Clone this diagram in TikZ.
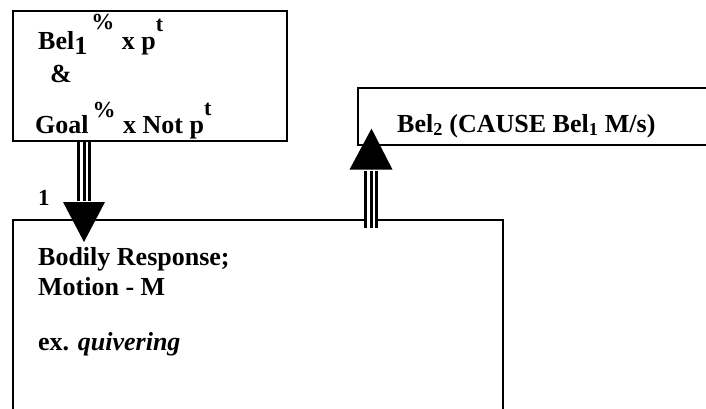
\documentclass[tikz,border=0pt]{standalone}
\usepackage{fontspec}
\setmainfont{Liberation Serif}
\usetikzlibrary{calc}
\begin{document}
\begin{tikzpicture}[x=1pt,y=-1pt,
  box/.style={draw, line width=1.6pt, rectangle, inner sep=0pt, anchor=north west},
  txt/.style={anchor=base west, inner sep=0pt, font=\fontsize{26}{30}\selectfont\bfseries},
  shaft/.style={line width=3pt, double=white, double distance=8pt},
  core/.style={line width=3pt},
  head/.style={fill=black, draw=none}]
\useasboundingbox (0,0) rectangle (706,409);
\begin{scope}
\clip (0,0) rectangle (706,409);
\node[box, minimum width=274pt, minimum height=130pt] (tl) at (12,10) {};
\node[box, minimum width=400pt, minimum height=57pt] (tr) at (357,87) {};
\node[box, minimum width=490pt, minimum height=250pt] (bt) at (12,219) {};
\end{scope}
% texts top-left
\node[txt] (t1) at (38,50) {Bel\raisebox{-5pt}{1}\hspace{4pt}\raisebox{20pt}{\fontsize{23}{23}\selectfont\%}\hspace{1pt} x p\raisebox{18pt}{\fontsize{22}{22}\selectfont t}};
\node[txt] (t2) at (50,83) {\&};
\node[txt] (t3) at (35,133) {Goal\hspace{4pt}\raisebox{16pt}{\fontsize{23}{23}\selectfont\%}\hspace{1pt} x Not p\raisebox{18pt}{\fontsize{22}{22}\selectfont t}};
% text right box
\node[txt] (t4) at (397,132) {Bel\textsubscript{2} (CAUSE Bel\textsubscript{1} M/s)};
% texts bottom box
\node[txt] (t5) at (38,265) {Bodily Response;};
\node[txt] (t6) at (38,295) {Motion - M};
\node[txt] (t7) at (38,350) {ex. \textit{quivering}};
\node[anchor=base west, inner sep=0pt, font=\fontsize{23}{26}\selectfont\bfseries] (n1) at (38,205) {1};
% down arrow
\coordinate (d1) at ($(tl.south west)+(72,0)$);
\coordinate (d2) at ($(bt.north west)+(72,-18)$);
\coordinate (d3) at ($(bt.north west)+(72,23)$);
\draw[shaft] (d1) -- (d2);
\draw[core] (d1) -- (d2);
\fill[head] ($(d2)+(-21,1)$) -- ($(d2)+(21,1)$) -- (d3) -- cycle;
% up arrow
\coordinate (u1) at ($(bt.north west)+(359,9)$);
\coordinate (u2) at ($(tr.south west)+(14,25)$);
\coordinate (u3) at ($(tr.south west)+(14.5,-17)$);
\draw[shaft] (u1) -- (u2);
\draw[core] (u1) -- (u2);
\fill[head] ($(u2)+(-21.5,-1)$) -- ($(u2)+(21.5,-1)$) -- (u3) -- cycle;
\end{tikzpicture}
\end{document}
